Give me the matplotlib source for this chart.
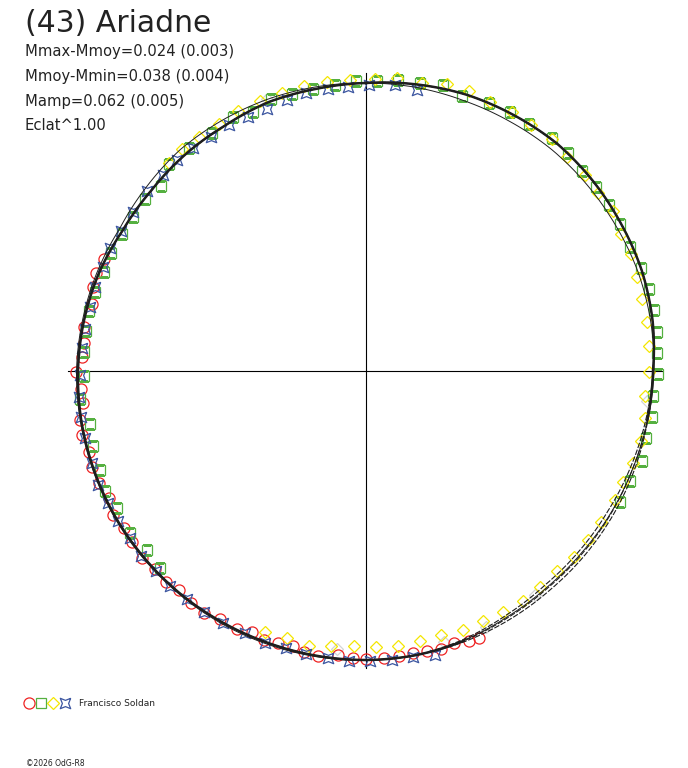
import numpy as np
import matplotlib
matplotlib.use("Agg")
import matplotlib.pyplot as plt
from matplotlib.legend_handler import HandlerTuple

# ---------------- data (phase angle in degrees, radial value) ----------------
model_deg = list(range(0, 361, 10))
model_main = [288, 291, 294, 295.5, 297, 296, 294.5, 293.5, 291, 287,
              285.5, 284, 283.5, 283, 283, 284.5, 287, 288.5, 289, 289,
              289, 289.5, 290, 290, 290, 289.5, 289, 288, 286.5, 284.5,
              281, 280.5, 282, 283, 286, 286.5, 288]
model_alt = [288, 288, 287.5, 288, 289, 289, 289, 289.5, 289, 288,
             286, 284, 283, 282, 282, 283.5, 286.5, 288.5, 289.5, 290,
             290.5, 291, 291, 291, 291, 290.5, 290, 289.5, 288, 286.5,
             284.5, 286.5, 289, 289, 289, 288.5, 288]
model_in = [288, 291, 294, 295.5, 297, 296, 294.5, 293.5, 291, 287,
            284, 281.5, 279.5, 279, 279, 281.5, 285.5, 288.5, 289, 289,
            289, 289.5, 290, 290, 290, 289.5, 289, 288, 286.5, 284.5,
            281, 280.5, 282, 283, 286, 286.5, 288]
model_out = [288, 291, 294, 295.5, 297, 296, 294.5, 293.5, 291, 287,
             286, 286, 286, 286, 286, 287, 288, 288.5, 289, 289,
             289, 289.5, 290, 290, 290, 289.5, 289, 288, 286.5, 284.5,
             281, 280.5, 282, 283, 286, 286.5, 288]

red_deg = [293.2, 289.9, 287.1, 283.7, 278.9, 275.7, 272.8, 269.8, 266.4, 263.5,
           260.3, 257.3, 253.7, 250.7, 247.2, 243.7, 240.3, 237.0, 233.8, 230.2,
           226.8, 223.5, 220.4, 217.0, 213.8, 210.4, 206.6, 203.6, 200.8, 197.9,
           194.9, 192.4, 189.6, 185.6, 182.6, 180.0, 176.4, 173.4, 170.5, 167.7,
           164.9, 162.1, 159.1, 157.1]
red_r = [284.9, 287.2, 285.6, 282.1, 285.4, 283.4, 284.3, 290.0, 285.6, 284.8,
         290.2, 291.1, 288.6, 290.3, 289.5, 286.7, 291.0, 288.0, 290.0, 292.0,
         289.0, 291.0, 288.0, 290.0, 291.0, 288.0, 288.5, 284.8, 287.7, 285.9,
         284.5, 287.8, 289.0, 285.4, 287.3, 288.0, 287.6, 286.9, 285.9, 286.6,
         287.9, 285.9, 289.0, 289.9]

green_deg = [226.3, 230.7, 235.5, 241.2, 245.4, 249.6, 254.7, 259.1, 264.4, 269.0,
             273.9, 278.2, 282.3, 286.3, 290.8, 294.9, 299.3, 303.5, 307.8, 312.0,
             316.5, 321.6, 327.2, 332.4, 336.5, 340.8, 345.1, 349.4, 353.8, 358.0,
             2.1, 6.3, 10.6, 15.1, 19.3, 24.7, 29.0, 33.5, 38.6, 42.9,
             47.2, 51.4, 55.7, 59.9, 64.8, 69.4, 73.8, 78.1, 82.3, 86.4,
             90.6, 95.0, 99.2, 103.4, 108.0, 112.7, 117.2]
green_r = [285.0, 282.8, 286.3, 284.6, 287.1, 283.8, 282.7, 281.0, 287.4, 282.0,
           282.7, 282.9, 283.5, 282.4, 279.9, 281.4, 280.1, 279.2, 279.9, 276.4,
           285.6, 284.3, 283.4, 286.8, 282.7, 287.9, 286.3, 287.1, 287.4, 290.5,
           290.5, 292.5, 292.7, 296.3, 291.7, 294.6, 296.6, 296.1, 297.7, 297.2,
           294.2, 294.4, 294.3, 293.5, 291.8, 293.8, 294.6, 294.7, 293.3, 291.3,
           291.7, 288.4, 289.4, 287.5, 289.9, 286.3, 285.7]

yellow_deg = [316.6, 320.3, 324.5, 329.2, 333.8, 338.5, 343.1, 347.8, 352.3, 356.9,
              1.7, 6.0, 10.9, 15.7, 20.2, 24.7, 29.3, 33.8, 38.7, 43.2,
              48.2, 52.5, 57.0, 61.7, 66.2, 70.8, 75.4, 80.1, 85.0, 90.3,
              95.1, 99.6, 104.2, 109.0, 113.3, 117.4, 122.7, 127.2, 131.9, 136.3,
              141.1, 145.6, 150.3, 154.9, 159.5, 164.1, 168.7, 173.3, 177.9, 182.6,
              187.3, 191.8, 196.4, 201.2]
yellow_r = [286.1, 288.3, 287.1, 287.4, 290.2, 290.0, 290.2, 291.3, 291.3, 291.8,
            292.0, 294.3, 293.6, 298.1, 298.6, 296.5, 297.4, 296.0, 296.9, 293.2,
            293.9, 292.8, 294.0, 289.2, 289.6, 287.2, 285.5, 285.6, 284.4, 283.3,
            280.4, 283.3, 283.4, 282.0, 279.4, 280.4, 278.9, 279.2, 279.2, 276.1,
            277.1, 278.4, 277.1, 276.3, 276.5, 274.5, 275.0, 276.9, 276.5, 275.3,
            277.2, 281.0, 278.6, 279.6]

blue_deg = [10.2, 5.8, 0.7, 356.4, 352.3, 347.9, 343.7, 339.3, 335.2, 330.9,
            326.4, 322.2, 318.1, 314.0, 309.4, 304.3, 299.7, 295.6, 291.7, 287.3,
            283.1, 278.6, 274.6, 269.2, 264.9, 260.9, 256.5, 251.4, 246.9, 242.8,
            238.8, 234.7, 230.6, 226.4, 222.3, 218.1, 213.9, 209.5, 204.8, 200.4,
            196.1, 192.0, 187.6, 183.4, 179.2, 174.8, 170.6, 166.3]
blue_r = [285.5, 287.0, 286.0, 284.3, 284.3, 284.0, 282.4, 279.7, 280.2, 281.2,
          280.6, 281.8, 283.5, 282.4, 282.8, 282.5, 282.2, 283.9, 282.6, 283.8,
          283.4, 284.2, 284.6, 286.0, 287.8, 288.9, 289.0, 288.8, 291.0, 289.7,
          290.5, 289.5, 291.0, 290.0, 290.5, 289.5, 290.2, 289.5, 288.9, 290.4,
          288.6, 289.6, 289.8, 290.5, 290.0, 290.2, 289.6, 292.0]

gray_deg = [96.0, 143.0, 155.0, 164.0, 186.0, 340.0]
gray_r = [283.0, 281.0, 283.0, 282.0, 280.0, 289.0]

title = "(43) Ariadne"
info_lines = ["Mmax-Mmoy=0.024 (0.003)", "Mmoy-Mmin=0.038 (0.004)",
              "Mamp=0.062 (0.005)", "Eclat^1.00"]
observer = "Francisco Soldan"
footer = "\u00a92026 OdG-R8"

# ---------------- figure ----------------
W, H = 688, 768
fig = plt.figure(figsize=(W / 100, H / 100), dpi=100)
fig.patch.set_facecolor("white")

cx, cy, R = 366, 371, 320
ax = fig.add_axes([(cx - R) / W, (H - cy - R) / H, 2 * R / W, 2 * R / H],
                  projection="polar")
ax.set_theta_zero_location("N")
ax.set_theta_direction(-1)
ax.set_ylim(0, R)
ax.set_facecolor("none")
ax.grid(False)
ax.set_xticks([])
ax.set_yticks([])
ax.spines["polar"].set_visible(False)

# cross hair
for ang, rr in [(0, 298), (90, 296), (180, 297), (270, 298)]:
    ax.plot([np.deg2rad(ang)] * 2, [0, rr], color="black", lw=0.8, zorder=1)

star = [(1, 1), (0, 0.6), (-1, 1), (-0.6, 0), (-1, -1), (0, -0.6),
        (1, -1), (0.6, 0), (1, 1)]


def th(d):
    return np.deg2rad(np.asarray(d, dtype=float))


ax.plot(th(gray_deg), gray_r, ls="none", marker="D", ms=6, mfc="none",
        mec="#d4d4d4", mew=0.9, zorder=2)
h_red, = ax.plot(th(red_deg), red_r, ls="none", marker="o", ms=8, mfc="none",
                 mec="#ee2222", mew=0.9, zorder=3)
h_green, = ax.plot(th(green_deg), green_r, ls="none", marker="s", ms=6.8,
                   mfc="none", mec="#55b040", mew=0.9, zorder=3)
h_yellow, = ax.plot(th(yellow_deg), yellow_r, ls="none", marker="D", ms=6,
                    mfc="none", mec="#f4e600", mew=0.9, zorder=3)
h_blue, = ax.plot(th(blue_deg), blue_r, ls="none", marker=star, ms=7.5,
                  mfc="none", mec="#3b55a0", mew=0.9, zorder=3)

# model curves (drawn as arcs between read points by the polar transform)
mdeg = np.asarray(model_deg, dtype=float)
main = np.asarray(model_main, dtype=float)
sector = (mdeg > 100) & (mdeg < 160)
main_thick = np.where(sector, np.nan, main)
curves = [
    ax.plot(th(mdeg), main_thick, color="#1e1e1e", lw=1.8, zorder=5)[0],
    ax.plot(th(mdeg), main, color="#1e1e1e", lw=0.8, ls=(0, (5, 1.5)), zorder=5)[0],
    ax.plot(th(mdeg), model_in, color="#1e1e1e", lw=0.8, ls=(0, (5, 1.5)), zorder=5)[0],
    ax.plot(th(mdeg), model_out, color="#1e1e1e", lw=0.8, ls=(0, (5, 1.5)), zorder=5)[0],
    ax.plot(th(mdeg), model_alt, color="#1e1e1e", lw=0.7, zorder=5)[0],
]
for ln in curves:
    ln.get_path()._interpolation_steps = 20

# texts
fig.text(25 / W, 1 - 32.5 / H, title, fontsize=21.5, color="#222222",
         family="DejaVu Sans", va="baseline", ha="left")
for txt, yb in zip(info_lines, [55.7, 81, 106, 130.5]):
    fig.text(25 / W, 1 - yb / H, txt, fontsize=10.6, color="#222222",
             family="DejaVu Sans", va="baseline", ha="left")
fig.text(26 / W, 1 - 766 / H, footer, fontsize=5.5, color="#222222",
         va="baseline", ha="left")

leg = ax.legend([(h_red, h_green, h_yellow, h_blue)], [observer],
                handler_map={tuple: HandlerTuple(ndivide=None, pad=0.0)},
                loc="center left", bbox_to_anchor=(23 / W, 1 - 704 / H),
                bbox_transform=fig.transFigure, frameon=False, fontsize=6.5,
                handlelength=5.3, handletextpad=0.9, borderpad=0,
                borderaxespad=0)
for t in leg.get_texts():
    t.set_color("#222222")

fig.savefig("out.png", dpi=100, facecolor="white")
